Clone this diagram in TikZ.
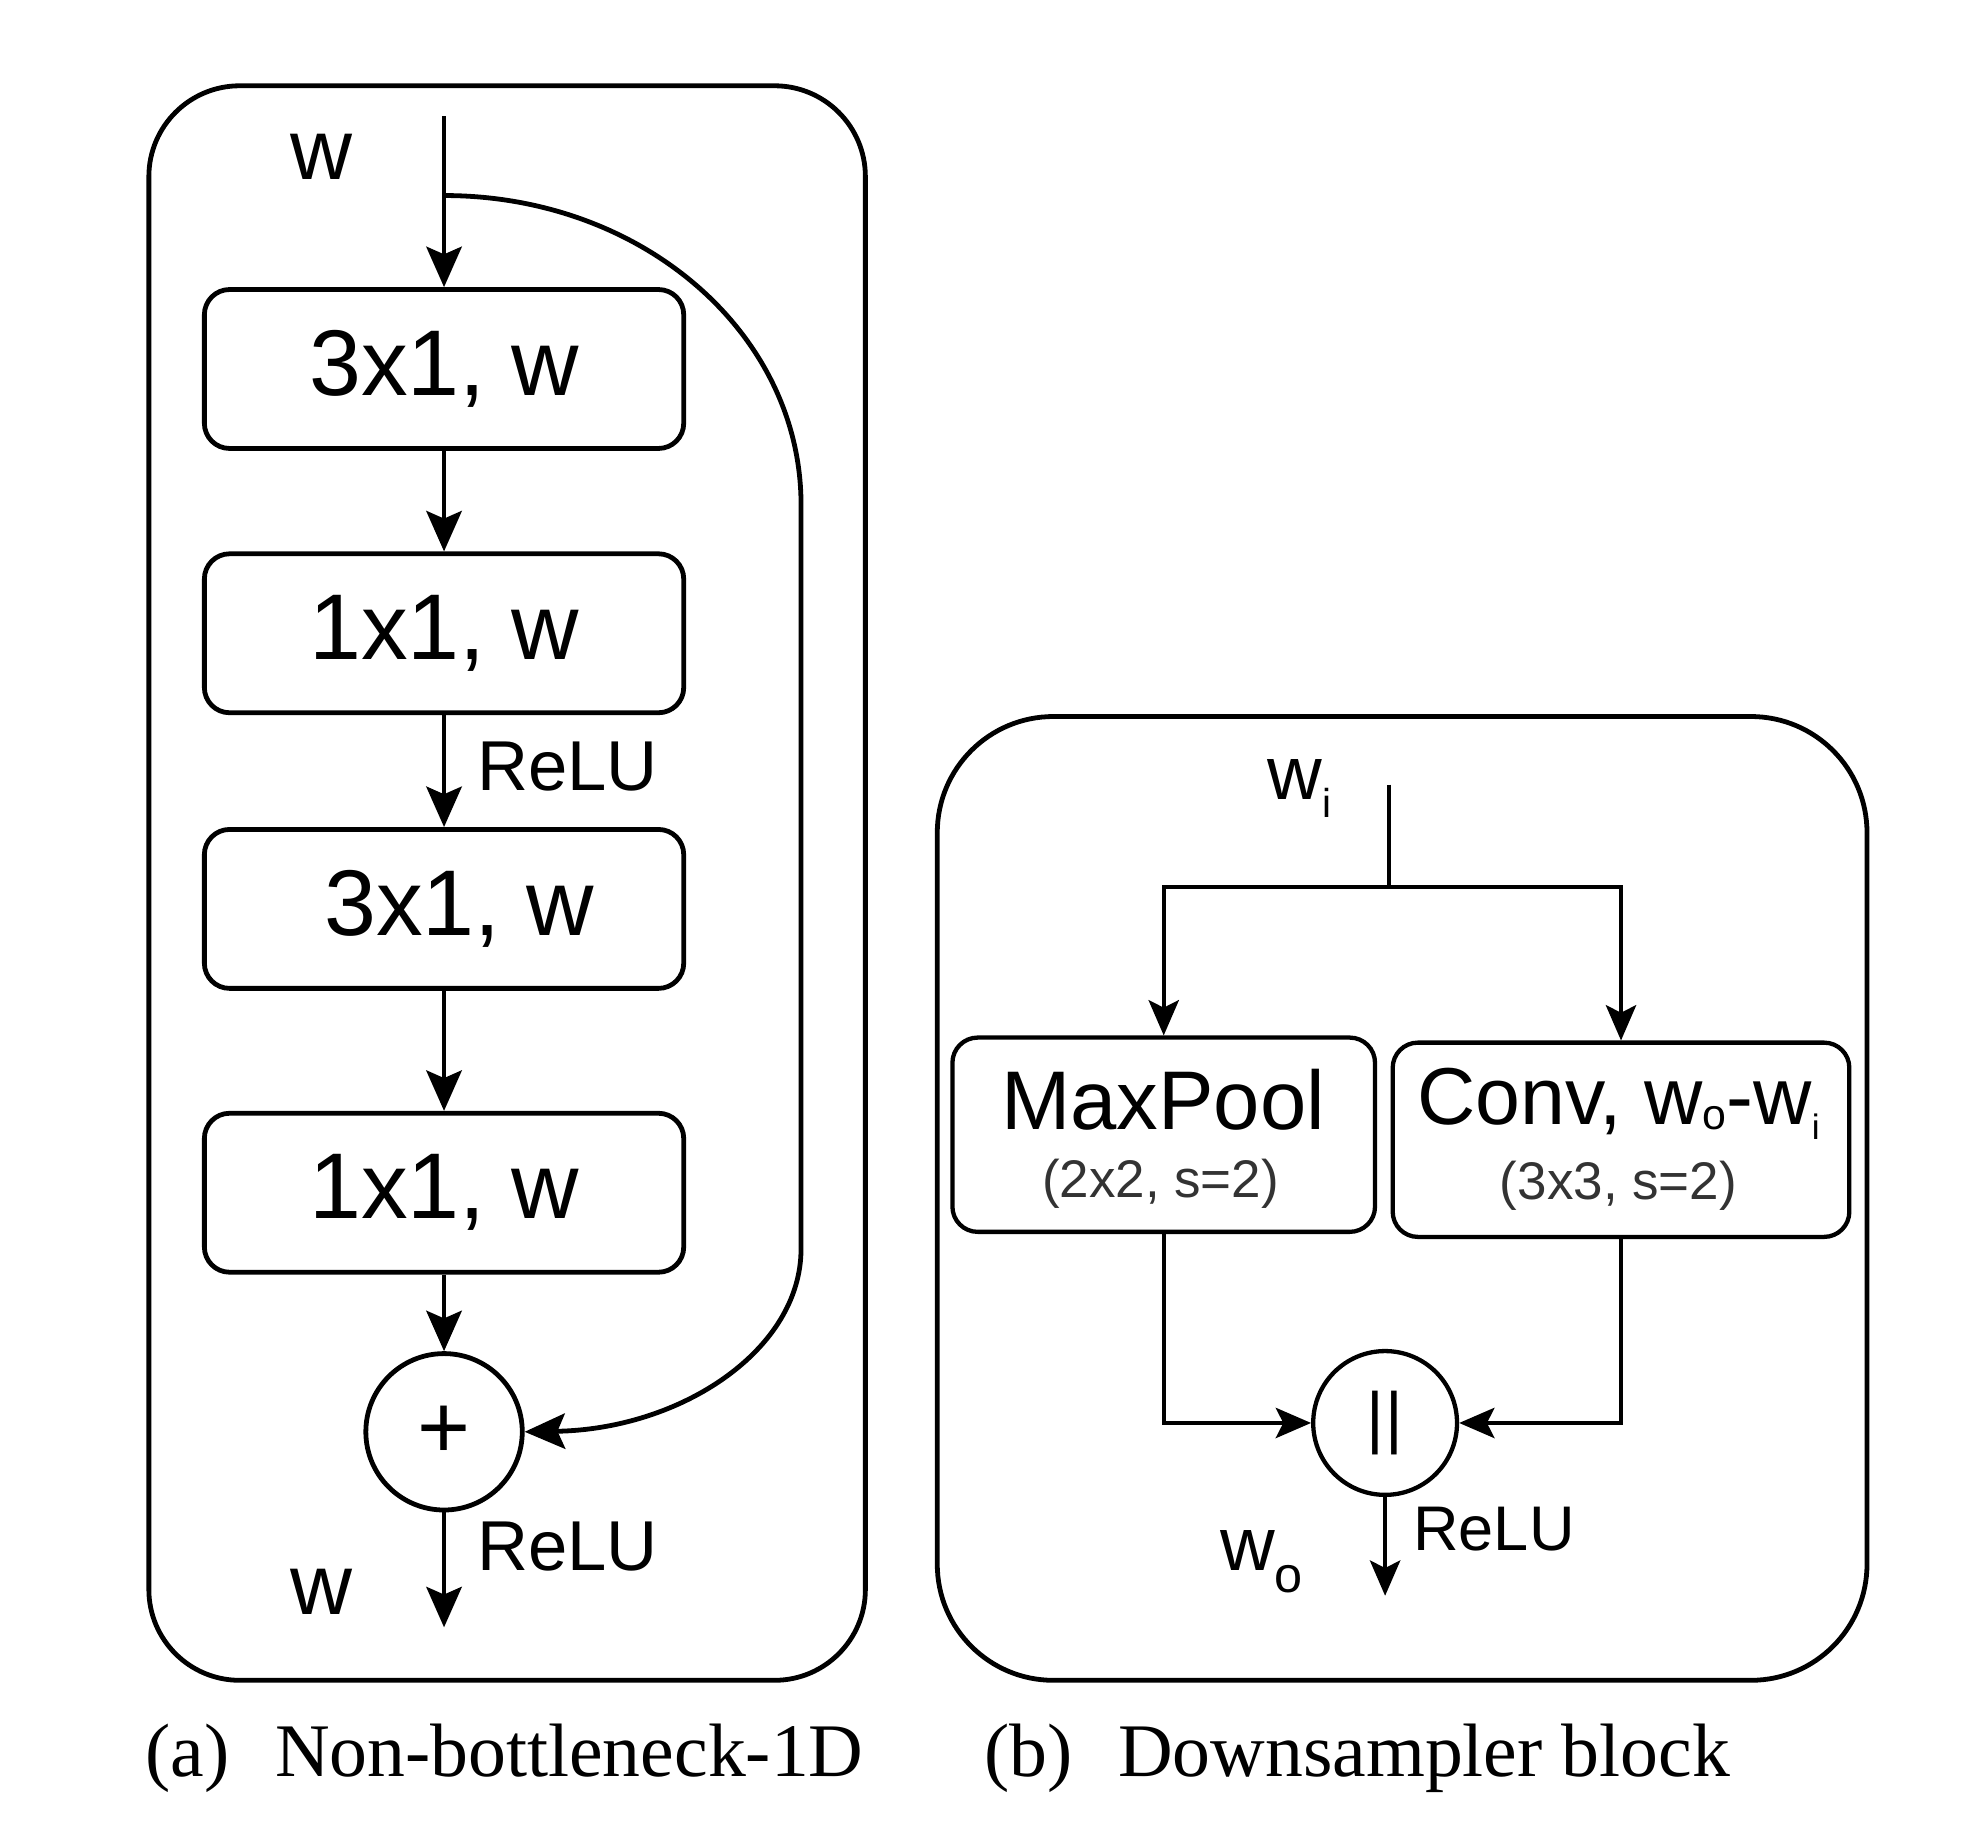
\documentclass[tikz,border=0pt]{standalone}
\usepackage{fontspec}
\setmainfont{Liberation Serif}
\setsansfont{Liberation Sans}
\usetikzlibrary{arrows.meta}
\begin{document}
\begin{tikzpicture}[x=0.5pt,y=-0.5pt,
  panel/.style={draw, line width=1.9pt},
  blk/.style={draw, line width=1.9pt, rounded corners=10pt, minimum width=190pt, minimum height=63pt, inner sep=0pt, font=\sffamily\fontsize{37}{37}\selectfont},
  blkb/.style={draw, line width=1.7pt, rounded corners=10pt, minimum height=77pt, inner sep=0pt},
  arr/.style={line width=1.9pt, -{Stealth[length=16pt,width=14pt,inset=3pt]}},
  arrb/.style={line width=1.6pt, -{Stealth[length=14pt,width=12pt,inset=3pt]}},
  lnb/.style={line width=1.6pt},
  lbl/.style={font=\sffamily\fontsize{34}{34}\selectfont, inner sep=0pt},
  relu/.style={font=\sffamily\fontsize{28}{28}\selectfont, inner sep=0pt, anchor=west},
  captxt/.style={font=\rmfamily\fontsize{30}{30}\selectfont, inner sep=0pt, anchor=base west},
  opnode/.style={draw, circle, inner sep=0pt, line width=1.9pt},
  subtxt/.style={font=\sffamily\fontsize{21}{21}\selectfont, text=black!80, inner sep=0pt},
  maintxt/.style={font=\sffamily\fontsize{33}{33}\selectfont, inner sep=0pt}
]
\path[use as bounding box] (0,0) rectangle (1568,1452);

% ---------------- Panel (a) ----------------
\draw[panel, rounded corners=36pt] (118,68) rectangle (686,1332);

\node[lbl] (wA) at (255,124) {w};
\coordinate (inA) at (352,92);
\coordinate (split) at (352,155);
\node[blk] (b1) at (352,292.5) {3x1, w};
\node[blk] (b2) at (352,502) {1x1, w};
\node[blk] (b3) at (352,720.5) {\hspace*{12pt}3x1, w};
\node[blk] (b4) at (352,945.5) {1x1, w};
\node[opnode, minimum size=62pt, font=\sffamily\fontsize{36}{36}\selectfont] (sumA) at (352,1135) {+};
\coordinate (outA) at (352,1290);
\node[lbl] (wA2) at (255,1262) {w};

\draw[arr] (inA) -- (b1);
\draw[arr] (b1) -- (b2);
\draw[arr] (b2) -- (b3);
\draw[arr] (b3) -- (b4);
\draw[arr] (b4) -- (sumA);
\draw[arr] (sumA) -- (outA);
\node[relu] (reluA1) at (378,608) {ReLU};
\node[relu] (reluA2) at (378,1226) {ReLU};

\draw[arr] (split) .. controls (510,155) and (635,265) .. (635,400)
  -- (635,990) .. controls (635,1070) and (540,1133) .. (sumA.east);

% ---------------- Panel (b) ----------------
\draw[panel, rounded corners=46pt] (743,568) rectangle (1480,1332);

\node[lbl, font=\sffamily\fontsize{30}{30}\selectfont] (wiB) at (1030,625) {w\raisebox{-7pt}{\fontsize{16}{16}\selectfont i}};
\coordinate (inB) at (1101,622);
\coordinate (jB) at (1101,703);

\node[blkb, minimum width=167.5pt] (mp) at (922.5,899.5) {};
\node[blkb, minimum width=181pt] (cv) at (1285,903.5) {};

\node[maintxt] (mpT) at (922,872) {MaxPool};
\node[subtxt] (mpS) at (920,938) {(2x2, s=2)};
\node[maintxt, font=\sffamily\fontsize{32}{32}\selectfont] (cvT) at (1283,875) {Conv, w\raisebox{-2pt}{\fontsize{17}{17}\selectfont o}-w\raisebox{-6pt}{\fontsize{14}{14}\selectfont i}};
\node[subtxt] (cvS) at (1283,940) {(3x3, s=2)};

\node[opnode, minimum size=57pt, line width=1.7pt, font=\sffamily\fontsize{27}{27}\selectfont] (catB) at (1098,1128) {|\kern0.5pt|};
\coordinate (outB) at (1098,1265);

\draw[lnb] (inB) -- (jB);
\draw[arrb] (jB) -| (mp.north);
\draw[arrb] (jB) -| (cv.north);
\draw[arrb] (mp.south) |- (catB.west);
\draw[arrb] (cv.south) |- (catB.east);
\draw[arrb] (catB) -- (outB);
\node[relu, font=\sffamily\fontsize{25}{25}\selectfont] (reluB) at (1120,1212) {ReLU};
\node[lbl, font=\sffamily\fontsize{30}{30}\selectfont] (woB) at (1000,1238) {w\raisebox{-9pt}{\fontsize{20}{20}\selectfont o}};

% ---------------- Captions ----------------
\node[captxt] (capA) at (115,1408) {(a)\hspace{18pt}Non-bottleneck-1D};
\node[captxt] (capB) at (780,1408) {(b)\hspace{18pt}Downsampler block};
\end{tikzpicture}
\end{document}
